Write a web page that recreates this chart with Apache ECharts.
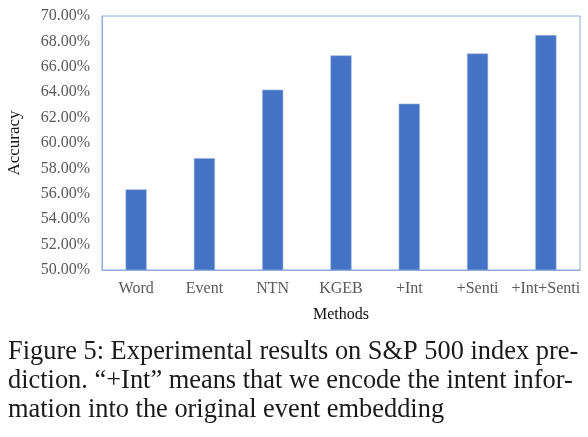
<!DOCTYPE html>
<html>
<head>
<meta charset="utf-8">
<script src="https://cdn.jsdelivr.net/npm/echarts@6/dist/echarts.min.js"></script>
<style>
  html, body { margin: 0; padding: 0; background: #fff; }
  #chart { width: 588px; height: 437px; }
</style>
</head>
<body>
<div id="chart"></div>
<script>
// categories and accuracy values (percent)
var methods = ["Word", "Event", "NTN", "KGEB", "+Int", "+Senti", "+Int+Senti"];
var accuracy = [56.35, 58.8, 64.2, 66.9, 63.1, 67.05, 68.5];
var captionLines = [
    "Figure 5: Experimental results on S&P 500 index pre-",
    "diction. \u201C+Int\u201D means that we encode the intent infor-",
    "mation into the original event embedding"
];

var serif = "'Liberation Serif', 'DejaVu Serif', serif";
var axisBlue = "#8eaadb";

var chart = echarts.init(document.getElementById("chart"));

// caption lines under the chart
var captionGraphics = captionLines.map(function (line, i) {
    return {
        type: "text",
        left: 8,
        top: 339 + i * 29,
        style: { text: line, font: "26.4px " + serif, fill: "#1a1a1a" }
    };
});

chart.setOption({
    animation: false,
    grid: {
        left: 102, right: 8, top: 16, height: 254,
        outerBoundsMode: "none",
        containLabel: false,
        show: true, borderColor: axisBlue, borderWidth: 1
    },
    xAxis: {
        type: "category",
        data: methods,
        name: "Methods",
        nameLocation: "middle",
        nameGap: 37,
        nameTextStyle: { fontFamily: serif, fontSize: 16, color: "#111" },
        axisLine: { lineStyle: { color: axisBlue } },
        axisTick: { inside: true, length: 4, lineStyle: { color: axisBlue } },
        axisLabel: { interval: 0, fontFamily: serif, fontSize: 16, color: "#595959", margin: 11 }
    },
    yAxis: {
        type: "value",
        min: 50, max: 70, interval: 2,
        name: "Accuracy",
        nameLocation: "middle",
        nameGap: 79,
        nameRotate: 90,
        nameTextStyle: { fontFamily: serif, fontSize: 17, color: "#111" },
        axisLine: { show: true, lineStyle: { color: axisBlue } },
        axisTick: { show: false },
        splitLine: { show: false },
        axisLabel: {
            fontFamily: serif, fontSize: 16, color: "#595959", margin: 12,
            formatter: function (v) { return v.toFixed(2) + "%"; }
        }
    },
    series: [{
        type: "bar",
        data: accuracy,
        barWidth: "31%",
        itemStyle: { color: "#4472c4", borderColor: "#9db4e0", borderWidth: 0.6 }
    }],
    graphic: captionGraphics
});
</script>
</body>
</html>
